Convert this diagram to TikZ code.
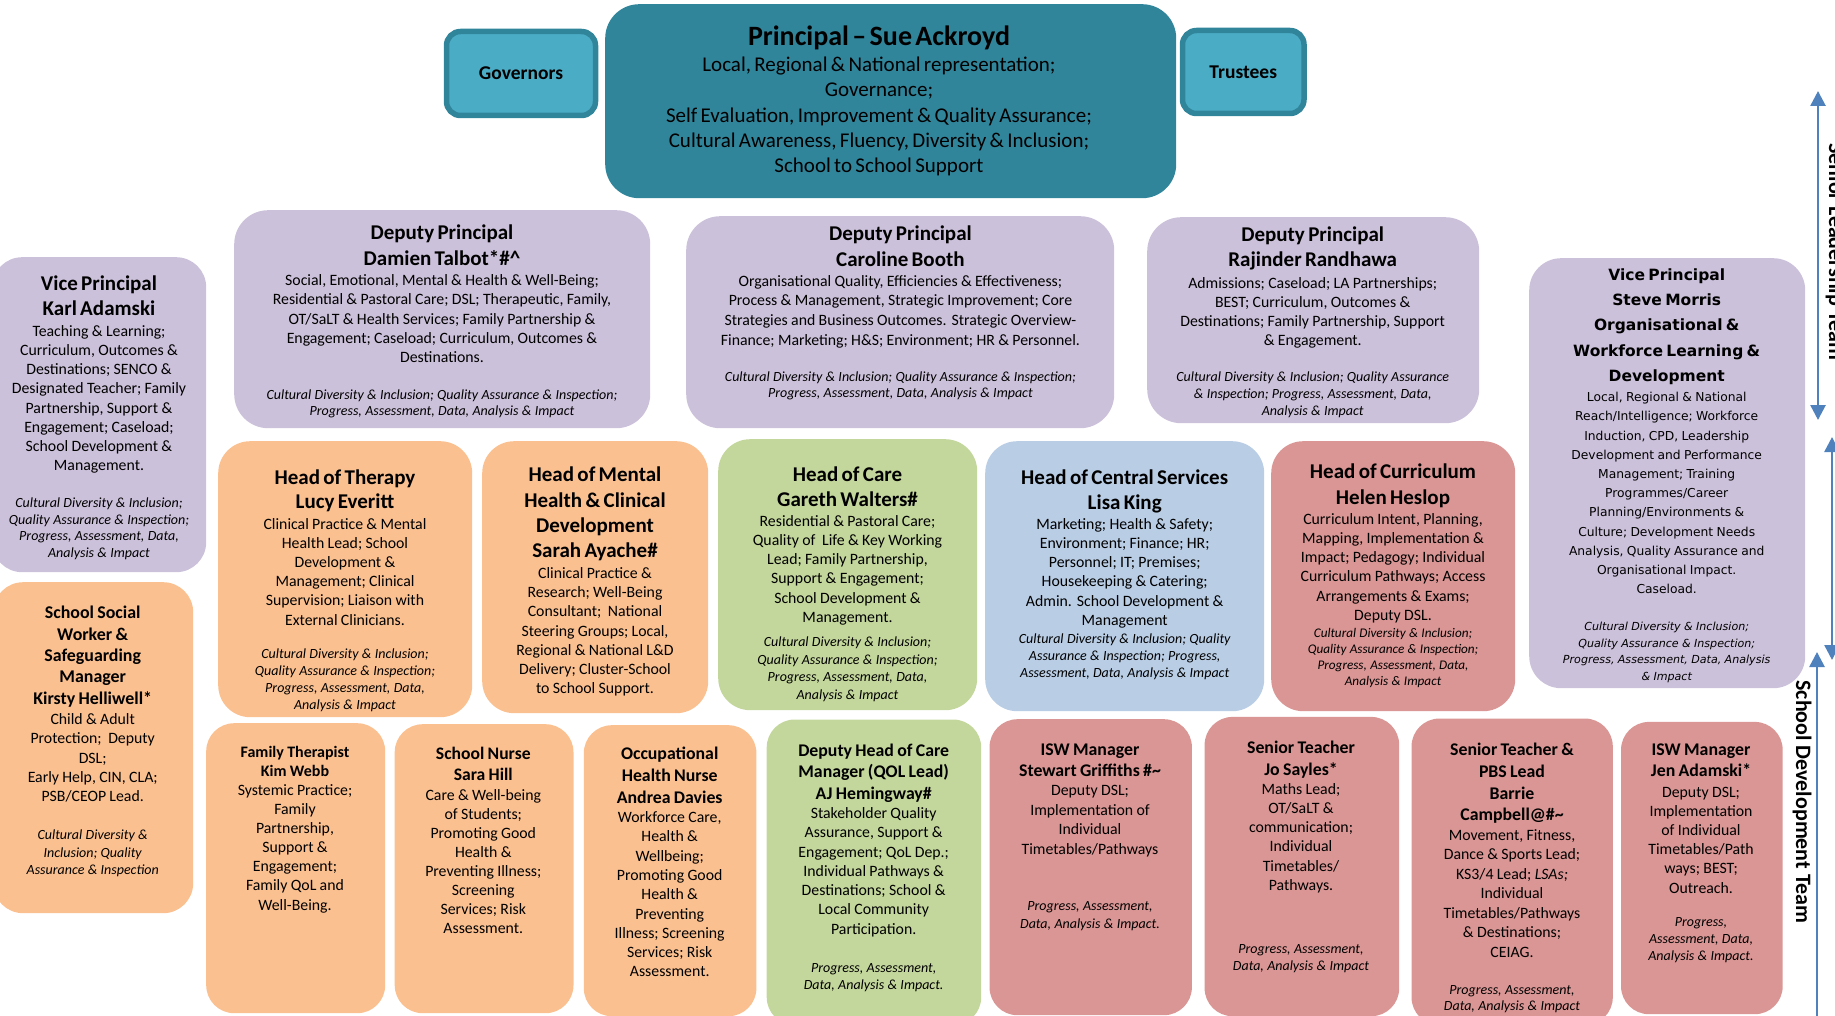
\documentclass[tikz,border=0pt]{standalone}
\usepackage{fontspec}
\setmainfont{Carlito}
\newfontfamily\dvsans{DejaVu Sans}
\usetikzlibrary{arrows.meta}
\definecolor{tealc}{RGB}{49,133,155}
\definecolor{govc}{RGB}{75,172,198}
\definecolor{lavc}{RGB}{204,193,218}
\definecolor{orac}{RGB}{250,192,144}
\definecolor{grnc}{RGB}{195,214,155}
\definecolor{bluc}{RGB}{185,205,229}
\definecolor{rosc}{RGB}{217,150,148}
\definecolor{arrc}{RGB}{79,129,189}
\newcommand\ttl[2]{\fontsize{#1}{#2}\selectfont\bfseries}
\newcommand\bdy[2]{\fontsize{#1}{#2}\selectfont\mdseries\upshape}
\newcommand\itl[2]{\fontsize{#1}{#2}\selectfont\mdseries\itshape}
% name, colour, x1, y1, x2, y2, radius
\newcommand\orgbox[7]{\node[fill=#2, rounded corners=#7, inner sep=0pt,
  minimum width={#5-(#3)}, minimum height={#6-(#4)}, anchor=north west] (#1) at (#3,#4) {};}
% name, cx, top, width, text
\newcommand\orgtext[5]{\node[anchor=north, inner sep=0pt, align=center, text width=#4] (#1) at (#2,#3) {#5};}
\tikzset{
  smallbox/.style={fill=govc, draw=tealc, line width=5.5pt, rounded corners=14pt, inner sep=0pt,
    font=\fontsize{19.5}{22}\selectfont\bfseries},
  dbl/.style={draw=arrc, line width=2.6pt, {Triangle[width=15pt,length=15pt]}-{Triangle[width=15pt,length=15pt]}},
  teamlabel/.style={rotate=-90, anchor=base, inner sep=0pt, font=\fontsize{22}{26}\selectfont\bfseries}
}
\begin{document}
\begin{tikzpicture}[x=1pt,y=-1pt]
\useasboundingbox (0,0) rectangle (1835,1016);

% ---------- top row ----------
\orgbox{pr}{tealc}{605}{4}{1176}{198}{34}
\orgtext{prt}{879}{26}{560pt}{{\ttl{28}{30}Principal – Sue Ackroyd\par}
{\bdy{21}{25.4}Local, Regional \& National representation;\\Governance;\\Self Evaluation, Improvement \& Quality Assurance;\\Cultural Awareness, Fluency, Diversity \& Inclusion;\\School to School Support\par}}

\node[smallbox, minimum width=149, minimum height=84] (gov) at (521,73.5) {Governors};
\node[smallbox, minimum width=121.5, minimum height=83] (tru) at (1243.25,72) {Trustees};

% ---------- deputy row ----------
\orgbox{vpk}{lavc}{-8}{257}{206}{572}{30}
\orgtext{vpkt}{99}{276}{240pt}{{\ttl{21}{24.3}Vice Principal\\Karl Adamski\par}\vspace{1.9pt}
{\bdy{15.8}{19.2}Teaching \& Learning;\\Curriculum, Outcomes \&\\Destinations; SENCO \&\\Designated Teacher; Family\\Partnership, Support \&\\Engagement; Caseload;\\School Development \&\\Management.\par}\vspace{20.3pt}
{\itl{14}{16.5}Cultural Diversity \& Inclusion;\\Quality Assurance \& Inspection;\\Progress, Assessment, Data,\\Analysis \& Impact\par}}

\orgbox{dpt}{lavc}{234}{210}{650}{428}{34}
\orgtext{dptt}{442}{224.3}{440pt}{{\ttl{21}{26}Deputy Principal\\Damien Talbot*\#\textasciicircum\par}\vspace{1.2pt}
{\bdy{15.8}{19.2}Social, Emotional, Mental \& Health \& Well-Being;\\Residential \& Pastoral Care; DSL; Therapeutic, Family,\\OT/SaLT \& Health Services; Family Partnership \&\\Engagement; Caseload; Curriculum, Outcomes \&\\Destinations.\par}\vspace{20.3pt}
{\itl{14}{16.4}Cultural Diversity \& Inclusion; Quality Assurance \& Inspection;\\Progress, Assessment, Data, Analysis \& Impact\par}}

\orgbox{dpc}{lavc}{686}{216}{1114}{428}{34}
\orgtext{dpct}{900.4}{225.3}{450pt}{{\ttl{21}{26}Deputy Principal\\Caroline Booth\par}\vspace{0.5pt}
{\bdy{15.8}{19.6}Organisational Quality, Efficiencies \& Effectiveness;\\Process \& Management, Strategic Improvement; Core\\Strategies and Business Outcomes. Strategic Overview-\\Finance; Marketing; H\&S; Environment; HR \& Personnel.\par}\vspace{20pt}
{\itl{14}{16}Cultural Diversity \& Inclusion; Quality Assurance \& Inspection;\\Progress, Assessment, Data, Analysis \& Impact\par}}

\orgbox{dpr}{lavc}{1147}{217}{1479}{423}{34}
\orgtext{dprt}{1312.7}{227}{360pt}{{\ttl{21}{25}Deputy Principal\\Rajinder Randhawa\par}\vspace{1.8pt}
{\bdy{15.8}{19.3}Admissions; Caseload; LA Partnerships;\\BEST; Curriculum, Outcomes \&\\Destinations; Family Partnership, Support\\\& Engagement.\par}\vspace{19pt}
{\itl{14}{16.8}Cultural Diversity \& Inclusion; Quality Assurance\\\& Inspection; Progress, Assessment, Data,\\Analysis \& Impact\par}}

\orgbox{vpm}{lavc}{1529}{258}{1805}{688}{32}
\orgtext{vpmt}{1666.7}{268.3}{300pt}{{\dvsans\ttl{15.5}{25.3}Vice Principal\\Steve Morris\\Organisational \&\\Workforce Learning \&\\Development\par}\vspace{1pt}
{\dvsans\bdy{12.3}{19.2}Local, Regional \& National\\Reach/Intelligence; Workforce\\Induction, CPD, Leadership\\Development and Performance\\Management; Training\\Programmes/Career\\Planning/Environments \&\\Culture; Development Needs\\Analysis, Quality Assurance and\\Organisational Impact.\\Caseload.\par}\vspace{20.6pt}
{\dvsans\itl{11.1}{16.5}Cultural Diversity \& Inclusion;\\Quality Assurance \& Inspection;\\Progress, Assessment, Data, Analysis\\\& Impact\par}}

% ---------- heads row ----------
\orgbox{hth}{orac}{218}{441}{472}{717}{32}
\orgtext{htht}{345}{469.3}{280pt}{{\ttl{21}{24.4}Head of Therapy\\Lucy Everitt\par}\vspace{1.8pt}
{\bdy{15.8}{19.1}Clinical Practice \& Mental\\Health Lead; School\\Development \&\\Management; Clinical\\Supervision; Liaison with\\External Clinicians.\par}\vspace{16.9pt}
{\itl{14}{16.8}Cultural Diversity \& Inclusion;\\Quality Assurance \& Inspection;\\Progress, Assessment, Data,\\Analysis \& Impact\par}}

\orgbox{hmh}{orac}{482}{441}{708}{713}{32}
\orgtext{hmht}{595}{467}{256pt}{{\ttl{21}{25.2}Head of Mental\\Health \& Clinical\\Development\\Sarah Ayache\#\par}\vspace{1.8pt}
{\bdy{15.8}{19.2}Clinical Practice \&\\Research; Well-Being\\Consultant;\ \ National\\Steering Groups; Local,\\Regional \& National L\&D\\Delivery; Cluster-School\\to School Support.\par}}

\orgbox{hoc}{grnc}{718}{439}{977}{710}{32}
\orgtext{hoct}{847.5}{466.3}{290pt}{{\ttl{21}{25}Head of Care\\Gareth Walters\#\par}\vspace{0.5pt}
{\bdy{15.8}{19.3}Residential \& Pastoral Care;\\Quality of\ \ Life \& Key Working\\Lead; Family Partnership,\\Support \& Engagement;\\School Development \&\\Management.\par}\vspace{6pt}
{\itl{14}{17.8}Cultural Diversity \& Inclusion;\\Quality Assurance \& Inspection;\\Progress, Assessment, Data,\\Analysis \& Impact\par}}

\orgbox{hcs}{bluc}{985}{441}{1264}{711}{32}
\orgtext{hcst}{1124.7}{469.3}{310pt}{{\ttl{21}{25.4}Head of Central Services\\Lisa King\par}\vspace{0.9pt}
{\bdy{15.8}{19.1}Marketing; Health \& Safety;\\Environment; Finance; HR;\\Personnel; IT; Premises;\\Housekeeping \& Catering;\\Admin. School Development \&\\Management\par}\vspace{1pt}
{\itl{14}{17}Cultural Diversity \& Inclusion; Quality\\Assurance \& Inspection; Progress,\\Assessment, Data, Analysis \& Impact\par}}

\orgbox{hcu}{rosc}{1271}{441}{1515}{711}{32}
\orgtext{hcut}{1393}{463.7}{275pt}{{\ttl{21}{25.6}Head of Curriculum\\Helen Heslop\par}\vspace{0.9pt}
{\bdy{15.8}{19.2}Curriculum Intent, Planning,\\Mapping, Implementation \&\\Impact; Pedagogy; Individual\\Curriculum Pathways; Access\\Arrangements \& Exams;\\Deputy DSL.\par}\vspace{0.8pt}
{\itl{13.2}{16}Cultural Diversity \& Inclusion;\\Quality Assurance \& Inspection;\\Progress, Assessment, Data,\\Analysis \& Impact\par}}

\orgbox{ssw}{orac}{-7}{582}{193}{913}{30}
\orgtext{sswt}{92.7}{605.9}{230pt}{{\ttl{17.9}{21.4}School Social\\Worker \&\\Safeguarding\\Manager\\Kirsty Helliwell*\par}\vspace{0.7pt}
{\bdy{15.8}{19.4}Child \& Adult\\Protection;\ \ Deputy\\DSL;\\Early Help, CIN, CLA;\\PSB/CEOP Lead.\par}\vspace{20.2pt}
{\itl{14}{17.5}Cultural Diversity \&\\Inclusion; Quality\\Assurance \& Inspection\par}}

% ---------- bottom row ----------
\orgbox{ftk}{orac}{206}{723}{385}{1013}{28}
\orgtext{ftkt}{295}{746.2}{210pt}{{\ttl{16}{18.7}Family Therapist\\Kim Webb\par}
{\bdy{15.8}{19.1}Systemic Practice;\\Family\\Partnership,\\Support \&\\Engagement;\\Family QoL and\\Well-Being.\par}}

\orgbox{snh}{orac}{394.5}{724}{573.3}{1013}{28}
\orgtext{snht}{483.3}{747}{210pt}{{\ttl{17.6}{20.6}School Nurse\\Sara Hill\par}\vspace{1pt}
{\bdy{15.8}{19.1}Care \& Well-being\\of Students;\\Promoting Good\\Health \&\\Preventing Illness;\\Screening\\Services; Risk\\Assessment.\par}}

\orgbox{ohn}{orac}{583.6}{725}{756.2}{1016}{28}
\orgtext{ohnt}{669.7}{746.9}{205pt}{{\ttl{17.8}{21.8}Occupational\\Health Nurse\\Andrea Davies\par}
{\bdy{15.8}{19.3}Workforce Care,\\Health \&\\Wellbeing;\\Promoting Good\\Health \&\\Preventing\\Illness; Screening\\Services; Risk\\Assessment.\par}}

\orgbox{dhc}{grnc}{766.5}{719.3}{981}{1025}{28}
\orgtext{dhct}{873.7}{743.9}{245pt}{{\ttl{17.8}{21.3}Deputy Head of Care\\Manager (QOL Lead)\\AJ Hemingway\#\par}
{\bdy{15.8}{19.3}Stakeholder Quality\\Assurance, Support \&\\Engagement; QoL Dep.;\\Individual Pathways \&\\Destinations; School \&\\Local Community\\Participation.\par}\vspace{20.5pt}
{\itl{14}{17.3}Progress, Assessment,\\Data, Analysis \& Impact.\par}}

\orgbox{isg}{rosc}{989.3}{719}{1191.7}{1015}{28}
\orgtext{isgt}{1090}{743.2}{235pt}{{\ttl{17.8}{21}ISW Manager\\Stewart Griffiths \#\textasciitilde\par}
{\bdy{15.8}{19.5}Deputy DSL;\\Implementation of\\Individual\\Timetables/Pathways\par}\vspace{37.8pt}
{\itl{14}{18.3}Progress, Assessment,\\Data, Analysis \& Impact.\par}}

\orgbox{jsy}{rosc}{1204.4}{716.7}{1399}{1016}{28}
\orgtext{jsyt}{1301}{740.9}{225pt}{{\ttl{17.8}{21.6}Senior Teacher\\Jo Sayles*\par}
{\bdy{15.8}{19.2}Maths Lead;\\OT/SaLT \&\\communication;\\Individual\\Timetables/\\Pathways.\par}\vspace{46.4pt}
{\itl{14}{16.7}Progress, Assessment,\\Data, Analysis \& Impact\par}}

\orgbox{stb}{rosc}{1411.3}{718.3}{1612.6}{1025}{28}
\orgtext{stbt}{1512}{743.2}{230pt}{{\ttl{17.8}{21.7}Senior Teacher \&\\PBS Lead\\Barrie\\Campbell@\#\textasciitilde\par}
{\bdy{15.8}{19.5}Movement, Fitness,\\Dance \& Sports Lead;\\KS3/4 Lead; \textit{LSAs;}\\Individual\\Timetables/Pathways\\\& Destinations;\\CEIAG.\par}\vspace{21.4pt}
{\itl{14}{15.7}Progress, Assessment,\\Data, Analysis \& Impact\par}}

\orgbox{ija}{rosc}{1620.8}{721.7}{1782.5}{1014}{28}
\orgtext{ijat}{1701}{743.9}{190pt}{{\ttl{17.8}{20.3}ISW Manager\\Jen Adamski*\par}\vspace{1.8pt}
{\bdy{15.8}{19.2}Deputy DSL;\\Implementation\\of Individual\\Timetables/Path\\ways; BEST;\\Outreach.\par}\vspace{16.4pt}
{\itl{14}{17}Progress,\\Assessment, Data,\\Analysis \& Impact.\par}}

% ---------- team arrows ----------
\coordinate (a1s) at (1818,91);
\coordinate (a1e) at (1818,420);
\coordinate (a2s) at (1832,437);
\coordinate (a2e) at (1832,660);
\coordinate (a3s) at (1817,652);
\coordinate (a3e) at (1817,1032);
\draw[dbl] (a1s) -- (a1e);
\draw[dbl] (a2s) -- (a2e);
\draw[dbl] (a3s) -- (a3e);
\node[teamlabel] (slt) at (1829,251.7) {Senior Leadership Team};
\node[teamlabel] (sdt) at (1796,801.7) {School Development Team};
\end{tikzpicture}
\end{document}
